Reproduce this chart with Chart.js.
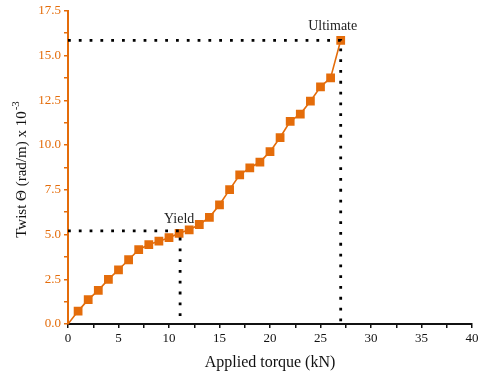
<!DOCTYPE html>
<html>
<head>
<meta charset="utf-8">
<script src="https://cdn.jsdelivr.net/npm/chart.js@4"></script>
<style>
  html, body { margin: 0; padding: 0; background: #fff; }
  #wrap { width: 485px; height: 376px; }
</style>
</head>
<body>
<div id="wrap"><canvas id="myChart" width="485" height="376"></canvas></div>
<script>
// torque (kN) vs twist (rad/m x 10^-3)
const torque = [0, 1, 2, 3, 4, 5, 6, 7, 8, 9, 10, 11, 12, 13, 14, 15, 16, 17, 18, 19, 20, 21, 22, 23, 24, 25, 26, 27];
const twist = [0, 0.72, 1.36, 1.88, 2.49, 3.03, 3.59, 4.15, 4.44, 4.63, 4.82, 5.07, 5.26, 5.56, 5.96, 6.66, 7.51, 8.33, 8.72, 9.05, 9.63, 10.42, 11.32, 11.73, 12.45, 13.25, 13.75, 15.85];

// yield and ultimate markers
const yieldPt = { x: 11.1, y: 5.2 };
const ultimatePt = { x: 27, y: 15.85 };

const xTicks = [0, 5, 10, 15, 20, 25, 30, 35, 40];
const yTicks = [0, 2.5, 5, 7.5, 10, 12.5, 15, 17.5];

const ORANGE = '#e46c0a';
const SERIF = '"Liberation Serif", "Times New Roman", serif';

const points = torque.map((t, i) => ({ x: t, y: twist[i] }));

function guide(p) {
  return [{ x: 0, y: p.y }, { x: p.x, y: p.y }, { x: p.x, y: 0 }];
}

// labels over the guide corners plus the rotated y title with superscript
const notes = {
  id: 'notes',
  afterDatasetsDraw(chart) {
    const ctx = chart.ctx;
    const xs = chart.scales.x, ys = chart.scales.y;
    ctx.save();
    ctx.fillStyle = '#222';
    ctx.font = '14px ' + SERIF;
    ctx.textAlign = 'center';
    ctx.textBaseline = 'bottom';
    ctx.fillText('Yield', xs.getPixelForValue(yieldPt.x) - 1, ys.getPixelForValue(yieldPt.y) - 5);
    ctx.fillText('Ultimate', xs.getPixelForValue(ultimatePt.x) - 8, ys.getPixelForValue(ultimatePt.y) - 7);

    // y axis title
    ctx.translate(22, 170);
    ctx.rotate(-Math.PI / 2);
    ctx.fillStyle = '#111';
    ctx.textBaseline = 'middle';
    ctx.textAlign = 'left';
    const main = 'Twist \u0398 (rad/m) x 10';
    ctx.font = '15px ' + SERIF;
    const w1 = ctx.measureText(main).width;
    ctx.font = '11px ' + SERIF;
    const w2 = ctx.measureText('-3').width;
    const start = -(w1 + w2) / 2;
    ctx.font = '15px ' + SERIF;
    ctx.fillText(main, start, 0);
    ctx.font = '11px ' + SERIF;
    ctx.fillText('-3', start + w1 + 1, -6);
    ctx.restore();
  }
};

const ctx = document.getElementById('myChart').getContext('2d');

new Chart(ctx, {
  type: 'scatter',
  data: {
    datasets: [
      {
        data: points,
        showLine: true,
        borderColor: ORANGE,
        backgroundColor: ORANGE,
        borderWidth: 1.6,
        pointStyle: 'rect',
        pointRadius: c => (c.dataIndex === 0 ? 0 : 6.2),
        pointBorderWidth: 0,
        order: 2
      },
      {
        data: guide(yieldPt),
        showLine: true,
        borderColor: '#000',
        borderWidth: 2.8,
        borderDash: [2.8, 8],
        pointRadius: 0,
        order: 1
      },
      {
        data: guide(ultimatePt),
        showLine: true,
        borderColor: '#000',
        borderWidth: 2.8,
        borderDash: [2.8, 8],
        pointRadius: 0,
        order: 1
      }
    ]
  },
  options: {
    responsive: false,
    animation: false,
    layout: { padding: { top: 10, right: 13, left: 0, bottom: 0 } },
    plugins: {
      legend: { display: false },
      tooltip: { enabled: false }
    },
    scales: {
      x: {
        type: 'linear',
        min: 0,
        max: 40,
        afterFit: s => { s.height = 52; },
        afterBuildTicks: s => {
          const t = [];
          for (let v = 0; v <= 40; v += 2.5) t.push({ value: v });
          s.ticks = t;
        },
        ticks: {
          color: '#111',
          font: { family: SERIF, size: 13 },
          padding: 3,
          maxRotation: 0,
          autoSkip: false,
          callback: v => (xTicks.includes(v) ? v : '')
        },
        grid: {
          drawOnChartArea: false,
          color: '#111',
          lineWidth: 1.5,
          tickLength: 4
        },
        border: { color: '#111', width: 2 },
        title: {
          display: true,
          text: 'Applied torque (kN)',
          color: '#111',
          font: { family: SERIF, size: 16 },
          padding: { top: 0, bottom: 4 }
        }
      },
      y: {
        type: 'linear',
        min: 0,
        max: 17.5,
        afterFit: s => { s.width = 68; },
        afterBuildTicks: s => {
          const t = [];
          for (let v = 0; v <= 17.5; v += 1.25) t.push({ value: v });
          s.ticks = t;
        },
        ticks: {
          color: ORANGE,
          font: { family: SERIF, size: 13 },
          padding: 3,
          autoSkip: false,
          callback: v => (yTicks.includes(v) ? v.toFixed(1) : '')
        },
        grid: {
          drawOnChartArea: false,
          color: ORANGE,
          lineWidth: 1.5,
          tickLength: 4
        },
        border: { color: ORANGE, width: 2 }
      }
    }
  },
  plugins: [notes]
});
</script>
</body>
</html>
